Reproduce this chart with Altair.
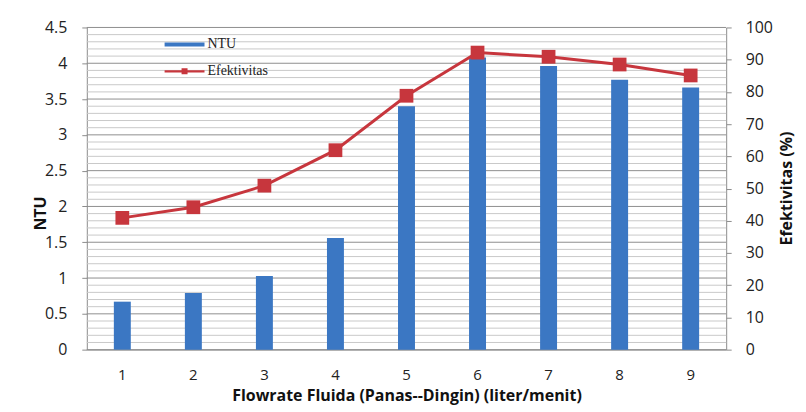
import altair as alt
import pandas as pd

flowrate = [1, 2, 3, 4, 5, 6, 7, 8, 9]
ntu = [0.67, 0.79, 1.03, 1.56, 3.40, 4.08, 3.96, 3.77, 3.66]
efektivitas = [40.9, 44.2, 50.9, 61.9, 78.8, 92.2, 90.9, 88.5, 85.1]
series_names = ["NTU", "Efektivitas"]
series_colors = ["#3B77C3", "#C7363D"]
ntu_major = [0, 0.5, 1, 1.5, 2, 2.5, 3, 3.5, 4, 4.5]
ntu_minor = [round(i * 0.1, 1) for i in range(46) if i % 5 != 0]
eff_ticks = list(range(0, 101, 10))

bar_df = pd.DataFrame({"x": flowrate, "ntu": ntu, "series": "NTU"})
line_df = pd.DataFrame({"x": flowrate, "eff": efektivitas, "series": "Efektivitas"})
minor_df = pd.DataFrame({"ntu": ntu_minor})
major_df = pd.DataFrame({"ntu": ntu_major})

label_font = "Open Sans"
rect_path = "M-1,-0.1L1,-0.1L1,0.1L-1,0.1Z"
line_sq_path = "M-1,-0.06L1,-0.06L1,0.06L-1,0.06Z M-0.15,-0.15L0.15,-0.15L0.15,0.15L-0.15,0.15Z"

x_axis = alt.Axis(
    title="Flowrate Fluida (Panas--Dingin) (liter/menit)",
    labelAngle=0,
    ticks=False,
    domain=True,
    domainColor="#8c8c8c",
    labelPadding=18,
    titlePadding=5,
    labelFontSize=15,
    titleFontSize=16,
)
x_enc = alt.X("x:O", scale=alt.Scale(paddingInner=0, paddingOuter=0), axis=x_axis)

legend_def = alt.Legend(
    title=None,
    orient="none",
    legendX=78,
    legendY=-3,
    symbolSize=1600,
    symbolOpacity=1,
    symbolStrokeWidth=0,
    labelFont="Liberation Serif",
    labelFontSize=14,
    labelColor="#222222",
    rowPadding=-23,
    labelOffset=3,
)
color_scale = alt.Scale(domain=series_names, range=series_colors)
color_enc = alt.Color("series:N", scale=color_scale, legend=legend_def)

left_axis = alt.Axis(
    title="NTU",
    values=ntu_major,
    labelExpr="format(datum.value, '~g')",
    grid=False,
    tickColor="#8c8c8c",
    tickSize=5,
    domainColor="#8c8c8c",
    labelPadding=15,
    labelFontSize=16,
    titleFontSize=16,
    titleX=-46,
    titleY=186,
    titleBaseline="middle",
)
left_scale = alt.Scale(domain=[0, 4.5], nice=False)

right_axis = alt.Axis(
    title="Efektivitas (%)",
    orient="right",
    values=eff_ticks,
    grid=False,
    tickColor="#8c8c8c",
    tickSize=5,
    domainColor="#8c8c8c",
    labelPadding=14,
    labelFontSize=16,
    titleFontSize=16,
    titleAngle=270,
    titleX=60,
    titleY=161,
    titleBaseline="middle",
)
right_scale = alt.Scale(domain=[0, 100], nice=False)

minor_rules = alt.Chart(minor_df).mark_rule(color="#c9c9c9", strokeWidth=1).encode(
    y=alt.Y("ntu:Q", scale=left_scale, axis=left_axis)
)
major_rules = alt.Chart(major_df).mark_rule(color="#8f8f8f", strokeWidth=1).encode(
    y=alt.Y("ntu:Q", scale=left_scale, axis=left_axis)
)
bars = alt.Chart(bar_df).mark_bar(size=17).encode(
    x=x_enc,
    y=alt.Y("ntu:Q", scale=left_scale, axis=left_axis),
    color=color_enc,
)
left = alt.layer(minor_rules, major_rules, bars)

line = alt.Chart(line_df).mark_line(strokeWidth=3).encode(
    x=x_enc,
    y=alt.Y("eff:Q", scale=right_scale, axis=right_axis),
    color=color_enc,
)
points = alt.Chart(line_df).mark_point(shape="square", filled=True, size=190, opacity=1).encode(
    x=x_enc,
    y=alt.Y("eff:Q", scale=right_scale, axis=right_axis),
    color=color_enc,
)
legend_layer = alt.Chart(line_df).mark_point(filled=True, opacity=0).encode(
    x=x_enc,
    y=alt.Y("eff:Q", scale=right_scale, axis=right_axis),
    color=color_enc,
    shape=alt.Shape(
        "series:N",
        scale=alt.Scale(domain=series_names, range=[rect_path, line_sq_path]),
        legend=legend_def,
    ),
)
right = alt.layer(line, points, legend_layer)

chart = (
    alt.layer(left, right)
    .resolve_scale(y="independent")
    .properties(width=641, height=323, padding={"left": 25, "top": 11, "right": 4, "bottom": 3})
    .configure_view(stroke=None)
    .configure_axis(
        labelFont=label_font,
        titleFont=label_font,
        labelColor="#222222",
        titleColor="#111111",
        titleFontWeight="bold",
    )
)

chart.save("out.html", embed_options={"renderer": "svg", "actions": False})
